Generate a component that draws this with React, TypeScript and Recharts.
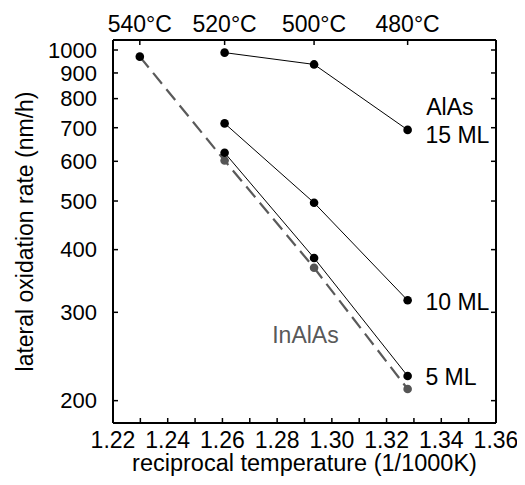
import React from 'react';
import { ComposedChart, Line, Scatter, XAxis, YAxis } from 'recharts';

// Top-axis temperature labels and the corresponding reciprocal temperatures (1/1000K)
const tempLabels = ['540°C', '520°C', '500°C', '480°C'];
const recipT = [1.2298, 1.2608, 1.2935, 1.3277];

// Lateral oxidation rates (nm/h)
const inAlAsRate = [970, 602, 368, 211]; // at all four temperatures
const alAs15Rate = [988, 936, 693]; // 520, 500, 480 °C
const alAs10Rate = [714, 496, 317];
const alAs5Rate = [624, 385, 224];

// Axis ticks
const xTicks = [1.22, 1.23, 1.24, 1.25, 1.26, 1.27, 1.28, 1.29, 1.3, 1.31, 1.32, 1.33, 1.34, 1.35, 1.36];
const xLabelTicks = [1.22, 1.24, 1.26, 1.28, 1.3, 1.32, 1.34, 1.36];
const yTicks = [200, 300, 400, 500, 600, 700, 800, 900, 1000];

// Text annotations (data coordinates of text start/baseline)
const annX = [1.3345, 1.3342, 1.3342, 1.3342, 1.2782];
const annY = [742, 653, 303, 215, 261];
const annText = ['AlAs', '15 ML', '10 ML', '5 ML', 'InAlAs'];
const annColor = ['#000', '#000', '#000', '#000', '#595959'];

const FONT = 'Liberation Sans, Arial, Helvetica, sans-serif';
const FS = 23;
const YFS = 22;

const inAlAsData = recipT.map((x, i) => ({ x, y: inAlAsRate[i] }));
const al15Data = recipT.slice(1).map((x, i) => ({ x, y: alAs15Rate[i] }));
const al10Data = recipT.slice(1).map((x, i) => ({ x, y: alAs10Rate[i] }));
const al5Data = recipT.slice(1).map((x, i) => ({ x, y: alAs5Rate[i] }));
const annData = annX.map((x, i) => ({ x, y: annY[i], text: annText[i], color: annColor[i] }));

const BottomTick = (props: any) => {
  const { x, y, payload } = props;
  const v = payload.value;
  const labelled = xLabelTicks.some((t) => Math.abs(t - v) < 1e-6);
  return (
    <g>
      <line x1={x} y1={y} x2={x} y2={y - 5} stroke="#000" strokeWidth={1.5} />
      {labelled && (
        <text x={x} y={y + 24.5} textAnchor="middle" fontFamily={FONT} fontSize={FS} fill="#000">
          {Number(v).toFixed(2)}
        </text>
      )}
    </g>
  );
};

const TopTick = (props: any) => {
  const { x, y, index } = props;
  return (
    <g>
      <line x1={x} y1={y} x2={x} y2={y + 5} stroke="#000" strokeWidth={1.5} />
      <text x={x} y={y - 8.5} textAnchor="middle" fontFamily={FONT} fontSize={FS} fill="#000">
        {tempLabels[index]}
      </text>
    </g>
  );
};

const LeftTick = (props: any) => {
  const { x, y, payload } = props;
  return (
    <g>
      <line x1={x} y1={y} x2={x + 5} y2={y} stroke="#000" strokeWidth={1.5} />
      <text x={x - 16} y={y} dy="0.355em" textAnchor="end" fontFamily={FONT} fontSize={YFS} fill="#000">
        {payload.value}
      </text>
    </g>
  );
};

const RightTick = (props: any) => {
  const { x, y } = props;
  return <line x1={x} y1={y} x2={x - 5} y2={y} stroke="#000" strokeWidth={1.5} />;
};

const inAlAsDot = (props: any) => {
  const { cx, cy, index } = props;
  return <circle key={`ia-${index}`} cx={cx} cy={cy} r={4.3} fill={index === 0 ? '#000' : '#555'} />;
};

const blackDot = (props: any) => {
  const { cx, cy, index } = props;
  return <circle key={`b-${index}-${cx}`} cx={cx} cy={cy} r={4.3} fill="#000" />;
};

const textShape = (props: any) => {
  const { cx, cy, payload } = props;
  return (
    <text x={cx} y={cy} fontFamily={FONT} fontSize={FS} fill={payload.color}>
      {payload.text}
    </text>
  );
};

const Y_DOMAIN: [number, number] = [180.5, 1047];

export default function App() {
  return (
    <ComposedChart width={510} height={470} margin={{ top: 0, right: 0, bottom: 0, left: 0 }}>
      <XAxis
        xAxisId={0}
        dataKey="x"
        type="number"
        domain={[1.22, 1.36]}
        allowDataOverflow
        ticks={xTicks}
        interval={0}
        tickSize={0}
        tickMargin={0}
        tickLine={false}
        tick={BottomTick}
        axisLine={{ stroke: '#000', strokeWidth: 2 }}
        height={55}
        label={{
          value: 'reciprocal temperature (1/1000K)',
          position: 'insideBottom',
          offset: 7,
          style: { fontFamily: FONT, fontSize: 23.5, fill: '#000' },
        }}
      />
      <XAxis
        xAxisId="top"
        orientation="top"
        dataKey="x"
        type="number"
        domain={[1.22, 1.36]}
        allowDataOverflow
        ticks={recipT}
        interval={0}
        tickSize={0}
        tickMargin={0}
        tickLine={false}
        tick={TopTick}
        axisLine={{ stroke: '#000', strokeWidth: 2 }}
        height={32}
      />
      <YAxis
        yAxisId={0}
        type="number"
        scale="log"
        domain={Y_DOMAIN}
        allowDataOverflow
        ticks={yTicks}
        interval={0}
        tickSize={0}
        tickMargin={0}
        tickLine={false}
        tick={LeftTick}
        axisLine={{ stroke: '#000', strokeWidth: 2 }}
        width={105}
        label={{
          value: 'lateral oxidation rate (nm/h)',
          angle: -90,
          position: 'insideLeft',
          offset: 17,
          style: { fontFamily: FONT, fontSize: 23, fill: '#000', textAnchor: 'middle' },
        }}
      />
      <YAxis
        yAxisId="right"
        orientation="right"
        type="number"
        scale="log"
        domain={Y_DOMAIN}
        allowDataOverflow
        ticks={yTicks}
        interval={0}
        tickSize={0}
        tickMargin={0}
        tickLine={false}
        tick={RightTick}
        axisLine={{ stroke: '#000', strokeWidth: 2 }}
        width={22}
      />
      <Line
        data={inAlAsData}
        dataKey="y"
        type="linear"
        stroke="#5a5a5a"
        strokeWidth={2.2}
        strokeDasharray="14 7"
        dot={inAlAsDot}
        activeDot={false}
        isAnimationActive={false}
      />
      <Line data={al15Data} dataKey="y" type="linear" stroke="#000" strokeWidth={1} dot={blackDot} activeDot={false} isAnimationActive={false} />
      <Line data={al10Data} dataKey="y" type="linear" stroke="#000" strokeWidth={1} dot={blackDot} activeDot={false} isAnimationActive={false} />
      <Line data={al5Data} dataKey="y" type="linear" stroke="#000" strokeWidth={1} dot={blackDot} activeDot={false} isAnimationActive={false} />
      <Scatter data={annData} dataKey="y" shape={textShape} isAnimationActive={false} />
    </ComposedChart>
  );
}
